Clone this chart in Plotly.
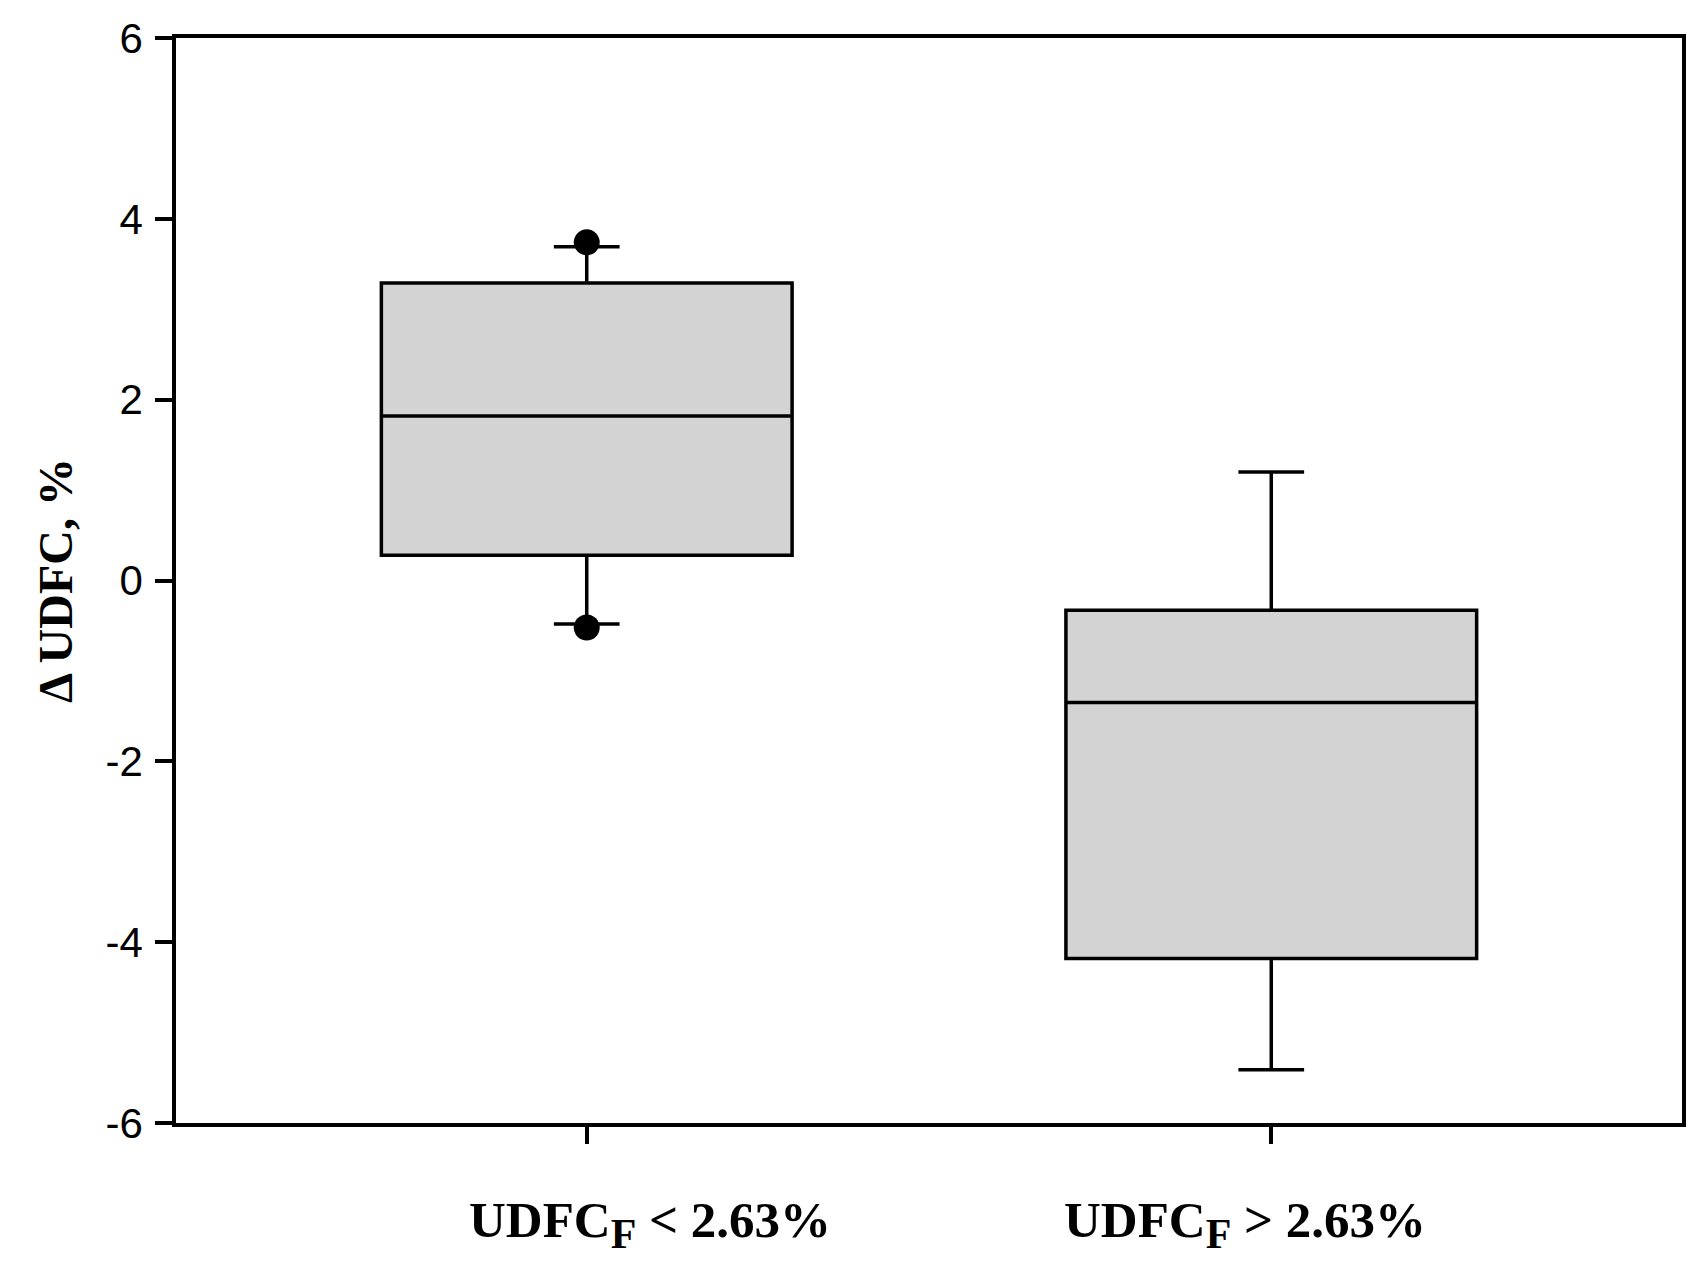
import plotly.graph_objects as go

categories = ["A", "B"]
labels = ["UDFC<sub><span style=\"font-size:42px\">F</span></sub> &lt; 2.63%",
          "UDFC<sub><span style=\"font-size:42px\">F</span></sub> &gt; 2.63%"]
label_shift = [63, -26]
q1 = [0.28, -4.18]
median = [1.82, -1.35]
q3 = [3.29, -0.33]
lower_fence = [-0.48, -5.41]
upper_fence = [3.69, 1.20]
outlier_x = [categories[0], categories[0]]
outlier_y = [3.74, -0.52]
y_ticks = [-6, -4, -2, 0, 2, 4, 6]

fig = go.Figure()
fig.add_trace(go.Box(
    x=categories, q1=q1, median=median, q3=q3,
    lowerfence=lower_fence, upperfence=upper_fence,
    width=0.6, whiskerwidth=0.16,
    fillcolor="#d3d3d3", line=dict(color="black", width=3.5),
    boxpoints=False, showlegend=False, hoverinfo="skip",
))
fig.add_trace(go.Scatter(
    x=outlier_x, y=outlier_y, mode="markers",
    marker=dict(color="black", size=26), showlegend=False, hoverinfo="skip",
))

serif = "Liberation Serif, Times New Roman"
for cat, lab, sh in zip(categories, labels, label_shift):
    fig.add_annotation(
        x=cat, xref="x", y=0, yref="paper", text=lab, showarrow=False,
        xanchor="center", yanchor="top", xshift=sh, yshift=-67,
        font=dict(family=serif, size=51, color="black", weight="bold"),
    )

fig.update_layout(
    width=1688, height=1259,
    margin=dict(l=168, r=14, t=30, b=144, autoexpand=False),
    plot_bgcolor="white", paper_bgcolor="white",
    font=dict(family="Liberation Sans, Arial", color="black"),
)
fig.update_xaxes(
    type="category", range=[-0.6, 1.6], automargin=False,
    showline=True, linecolor="black", linewidth=3.5, mirror=True,
    ticks="outside", ticklen=17, tickwidth=3.5, tickcolor="black",
    showgrid=False, zeroline=False, showticklabels=False,
)
fig.update_yaxes(
    range=[-6, 6], tickvals=y_ticks, ticktext=[str(v) for v in y_ticks],
    automargin=False,
    showline=True, linecolor="black", linewidth=3.5, mirror=True,
    ticks="outside", ticklen=17, tickwidth=3.5, tickcolor="black",
    showgrid=False, zeroline=False,
    tickfont=dict(family="Liberation Sans, Arial", size=42, color="black"),
    ticklabelstandoff=4,
    title=dict(text="<b>Δ UDFC, %</b>", standoff=19,
               font=dict(family=serif, size=48, color="black")),
)

fig.write_html("out.html")
